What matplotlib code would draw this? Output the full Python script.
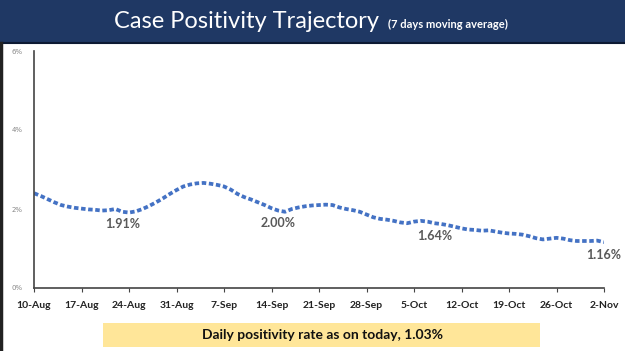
import numpy as np
import pandas as pd
import matplotlib.pyplot as plt
from matplotlib.patches import Rectangle
from matplotlib.lines import Line2D

# 7 day moving average of case positivity (%), 10-Aug .. 2-Nov
positivity = [
    2.40, 2.33, 2.25, 2.17, 2.10, 2.06, 2.03,
    2.01, 1.99, 1.98, 1.96, 1.97, 2.00, 1.93,
    1.91, 1.94, 2.00, 2.08, 2.17, 2.27, 2.38,
    2.48, 2.57, 2.62, 2.65, 2.66, 2.64, 2.61,
    2.57, 2.49, 2.38, 2.30, 2.24, 2.17, 2.10,
    2.02, 1.96, 1.93, 2.00, 2.04, 2.07, 2.09,
    2.10, 2.11, 2.10, 2.04, 2.00, 1.97, 1.93,
    1.86, 1.79, 1.75, 1.73, 1.70, 1.66, 1.64,
    1.68, 1.70, 1.68, 1.64, 1.62, 1.59, 1.55,
    1.51, 1.48, 1.47, 1.45, 1.46, 1.43, 1.40,
    1.38, 1.37, 1.35, 1.31, 1.26, 1.23, 1.25,
    1.27, 1.25, 1.21, 1.19, 1.19, 1.19, 1.20,
    1.16,
]
dates = pd.date_range('2020-08-10', periods=len(positivity), freq='D')

tick_labels = ['10-Aug', '17-Aug', '24-Aug', '31-Aug', '7-Sep', '14-Sep', '21-Sep',
               '28-Sep', '5-Oct', '12-Oct', '19-Oct', '26-Oct', '2-Nov']

callout_dates = ['2020-08-23', '2020-09-15', '2020-10-08', '2020-11-02']
callout_text = ['1.91%', '2.00%', '1.64%', '1.16%']

title = 'Case Positivity Trajectory'
subtitle = '(7 days moving average)'
footer = 'Daily positivity rate as on today, 1.03%'

fig = plt.figure(figsize=(6.25, 3.51), dpi=100)
W, H = 625, 351

# title banner
fig.patches.append(Rectangle((0, 1 - 43 / H), 1, 43 / H, transform=fig.transFigure,
                             facecolor='#1f3864', edgecolor='none', zorder=0))
fig.lines.append(Line2D([0, 1], [1 - 43 / H, 1 - 43 / H], transform=fig.transFigure,
                        color='#0d1a33', lw=1.5))
fig.lines.append(Line2D([0.002, 0.002], [0, 1 - 43 / H], transform=fig.transFigure,
                        color='#222222', lw=2.5))
fig.text(246 / W, 1 - 21 / H, title, color='white', fontsize=17, family='Lato',
         ha='center', va='center')
fig.text(388 / W, 1 - 24 / H, subtitle, color='white', fontsize=8, family='Lato',
         fontweight='bold', ha='left', va='center')

ax = fig.add_axes([34 / W, 1 - 288 / H, (604 - 34) / W, (288 - 51) / H])
x = (dates - dates[0]).days
ax.plot(x, positivity, color='#4472c4', lw=2.7, linestyle=(0, (1.2, 0.7)),
        solid_capstyle='butt')

for d, t in zip(callout_dates, callout_text):
    i = (pd.Timestamp(d) - dates[0]).days
    ax.annotate(t, (i, positivity[i]), xytext=(0, -9), textcoords='offset points',
                ha='center', va='center', fontsize=9, color='#595959',
                family='Lato', fontweight='bold', annotation_clip=False)

ax.set_xlim(0, len(positivity) - 1)
ax.set_ylim(0, 6)
ax.set_xticks(np.arange(0, len(positivity), 7))
ax.set_xticklabels(tick_labels, fontsize=7.5, fontweight='bold', family='Lato',
                   color='#222222')
ax.set_yticks([0, 2, 4, 6])
ax.set_yticklabels(['0%', '2%', '4%', '6%'], fontsize=5, color='#888888')
ax.tick_params(axis='y', length=0, pad=8)
ax.tick_params(axis='x', length=3, color='#444444', pad=6)
for s in ['top', 'right']:
    ax.spines[s].set_visible(False)
for s in ['left', 'bottom']:
    ax.spines[s].set_color('#444444')
    ax.spines[s].set_linewidth(1.2)

# footer box
fig.patches.append(Rectangle((103 / W, 1 - 347 / H), (540 - 103) / W, 24 / H,
                             transform=fig.transFigure, facecolor='#ffe699',
                             edgecolor='none'))
fig.text(322 / W, 1 - 335 / H, footer, fontsize=10, fontweight='bold', family='Lato',
         color='#111111', ha='center', va='center')

fig.savefig('out.png', dpi=100)
